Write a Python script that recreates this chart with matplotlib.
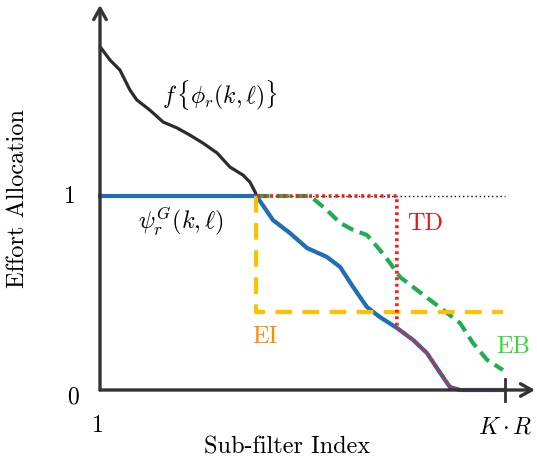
import numpy as np
import matplotlib
matplotlib.use("Agg")
import matplotlib.pyplot as plt

plt.rcParams['mathtext.fontset'] = 'cm'

# data (normalized sub-filter index, effort)
curve_x = [0.0, 0.025, 0.049, 0.074, 0.091, 0.123, 0.156, 0.190, 0.222, 0.254, 0.289,
           0.321, 0.353, 0.370, 0.383, 0.388, 0.427, 0.469, 0.511, 0.560, 0.593, 0.625,
           0.659, 0.691, 0.733, 0.773, 0.807, 0.840, 0.864, 0.889, 1.0]
curve_y = [1.77, 1.70, 1.65, 1.546, 1.495, 1.443, 1.381, 1.351, 1.314, 1.273, 1.222,
           1.149, 1.108, 1.072, 1.021, 0.995, 0.876, 0.809, 0.732, 0.686, 0.634, 0.531,
           0.428, 0.376, 0.320, 0.258, 0.191, 0.088, 0.015, 0.0, 0.0]
eb_x = [0.388, 0.519, 0.560, 0.593, 0.625, 0.659, 0.691, 0.716, 0.741, 0.773, 0.815,
        0.857, 0.889, 0.921, 0.956, 0.995]
eb_y = [1.0, 1.0, 0.928, 0.861, 0.825, 0.799, 0.722, 0.655, 0.582, 0.531, 0.464,
        0.397, 0.345, 0.242, 0.155, 0.103]
td_cut = 0.733
ei_x = [0.385, 0.385, 0.995]
ei_y = [1.0, 0.40, 0.40]
ytick_vals = [0, 1]
ytick_labels = ['0', '1']
xtick_labels = ['1', r'$K\cdot R$']

W, H = 537, 466
fig = plt.figure(figsize=(W/100, H/100), dpi=100)
ax = fig.add_axes([0, 0, 1, 1])
ax.set_xlim(-100/405, (W-100)/405)
ax.set_ylim((390-H)/194, 390/194)
ax.axis('off')

def px(x):
    return (x - 100) / 405

def py(y):
    return (390 - y) / 194

cx = np.array(curve_x); cy = np.array(curve_y)
axis_col = '#333333'
cm = {'family': 'cmr10'}

# reference dotted line at 1
ax.plot([0, 1.0], [1, 1], ls=(0, (1, 2)), color='black', lw=1.0, zorder=1)

# black curve
ax.plot(cx, cy, color='#2b2b2b', lw=2.3, zorder=3, solid_capstyle='round', solid_joinstyle='round')
# blue psi
ax.plot(cx, np.minimum(cy, 1.0), color='#1f6fb7', lw=3.0, zorder=4, solid_joinstyle='round')
# green EB
ax.plot(eb_x, eb_y, color='#1fae55', lw=3.0, ls=(0, (3, 1.6)), zorder=5)
# red TD
mask = cx > td_cut
tdx = [0.388, td_cut, td_cut] + list(cx[mask])
tdy = [1.0, 1.0, 0.320] + list(cy[mask])
ax.plot(tdx, tdy, color='#ff1a1a', lw=2.6, ls=(0, (0.8, 1.0)), zorder=6)
# orange EI
ax.plot(ei_x, ei_y, color='#ffc000', lw=3.0, ls=(0, (4, 2.5)), zorder=5)

# axes with arrows
ax.annotate('', xy=(px(535), 0), xytext=(0, 0),
            arrowprops=dict(arrowstyle='->,head_length=0.8,head_width=0.45', color=axis_col, lw=2.4,
                            shrinkA=0, shrinkB=0), zorder=7)
ax.annotate('', xy=(0, py(5)), xytext=(0, 0),
            arrowprops=dict(arrowstyle='->,head_length=0.8,head_width=0.45', color=axis_col, lw=2.4,
                            shrinkA=0, shrinkB=0), zorder=7)
ax.plot([1.0, 1.0], [-0.055, 0.055], color=axis_col, lw=2.0, zorder=7)

# tick labels
ax.text(px(73), py(397), ytick_labels[0], ha='center', va='center', fontsize=17, **cm)
ax.text(px(70), py(197), ytick_labels[1], ha='center', va='center', fontsize=17, **cm)
ax.text(px(98), py(426), xtick_labels[0], ha='center', va='center', fontsize=17, **cm)
ax.text(px(505), py(426), xtick_labels[1], ha='center', va='center', fontsize=17)

# axis labels
ax.text(px(287), py(447), 'Sub-filter Index', ha='center', va='center', fontsize=17.5, **cm)
ax.text(px(18), py(198), 'Effort Allocation', ha='center', va='center', rotation=90,
        fontsize=17.5, **cm)

# curve labels
ax.text(px(220), py(95), r'$f\,\{\phi_r(k,\ell)\}$', ha='center', va='center', fontsize=17)
ax.text(px(181), py(222), r'$\psi_r^G(k,\ell)$', ha='center', va='center', fontsize=17.5)
ax.text(px(425), py(224), 'TD', color='#ee1111', ha='center', va='center', fontsize=17.5, **cm)
ax.text(px(265), py(337), 'EI', color='#ff8c00', ha='center', va='center', fontsize=17.5, **cm)
ax.text(px(513), py(347), 'EB', color='#33dd33', ha='center', va='center', fontsize=17.5, **cm)

fig.savefig('out.png', dpi=100)
